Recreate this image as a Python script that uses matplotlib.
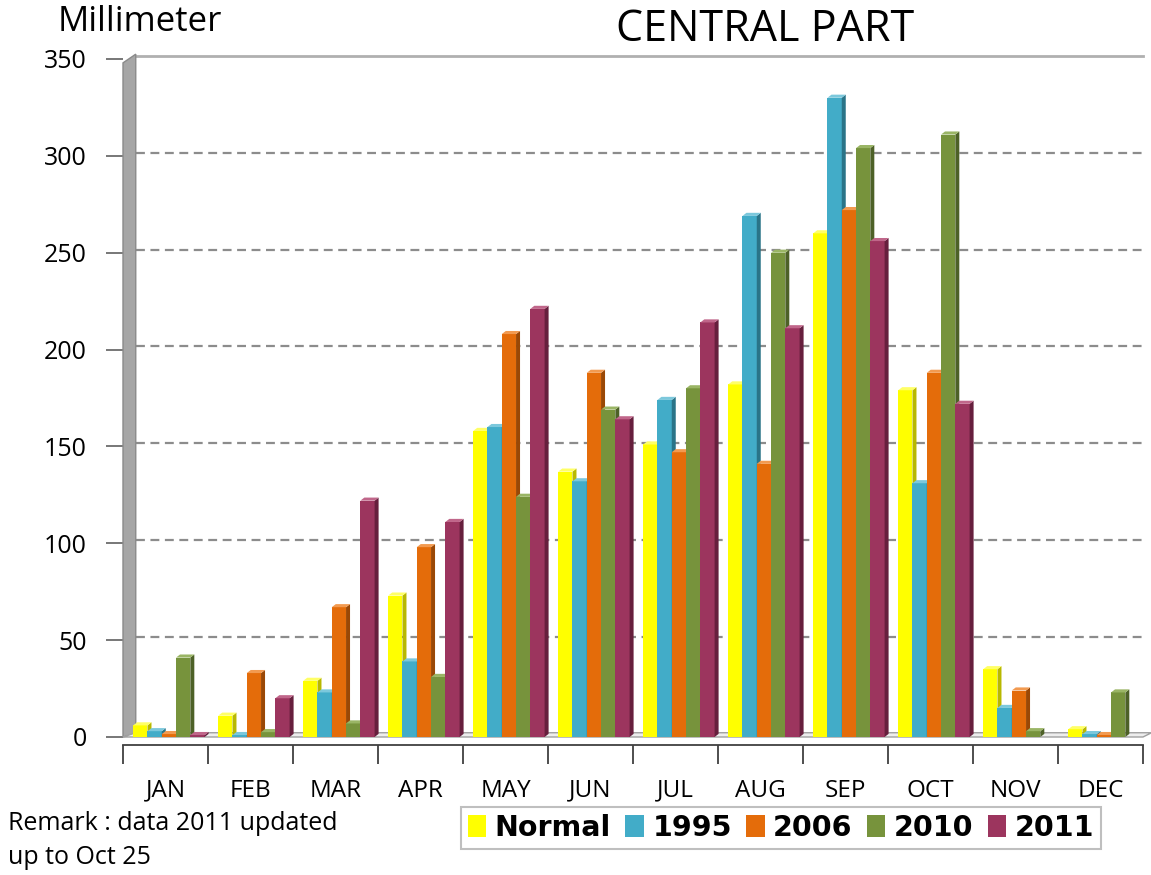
import numpy as np
from matplotlib import pyplot as plt
from matplotlib.patches import Polygon, Patch

months = ["JAN", "FEB", "MAR", "APR", "MAY", "JUN", "JUL", "AUG", "SEP", "OCT", "NOV", "DEC"]
series = ["Normal", "1995", "2006", "2010", "2011"]

normal = [6, 11, 29, 73, 158, 137, 151, 182, 260, 179, 35, 4]
y1995 = [3, 1, 23, 39, 160, 132, 174, 269, 330, 131, 15, 1.5]
y2006 = [1.5, 33, 67, 98, 208, 188, 147, 141, 272, 188, 24, 1]
y2010 = [41, 2.5, 7, 31, 124, 169, 180, 250, 304, 311, 3, 23]
y2011 = [1, 20, 122, 111, 221, 164, 214, 211, 256, 172, 0, 0]

colors = ["#FFFF00", "#42ACC8", "#E46C0A", "#77933C", "#9C355E"]
sides = ["#B8B800", "#2A7488", "#9A4806", "#4D6127", "#661F3D"]
tops = ["#FFFF66", "#7CC8DC", "#F29A50", "#9AB565", "#C0668A"]

fig = plt.figure(figsize=(11.51, 8.75), dpi=100)
ax = fig.add_axes([123 / 1151, (875 - 737) / 875, 1020 / 1151, 678 / 875])
ax.set_xlim(-0.5, 11.5)
ax.set_ylim(0, 348)

x = np.arange(len(months))
w = 0.168
dx = 0.047  # depth of the fake 3d
dy = 1.6

# grid lines
for g in [50, 100, 150, 200, 250, 300]:
    ax.plot([-0.35, 11.5], [g + dy, g + dy], color="#8C8C8C", lw=1.6,
            dashes=(4, 2.5), zorder=1, clip_on=False)
ax.plot([-0.35, 11.5], [351.5, 351.5], color="#B0B0B0", lw=2, zorder=1, clip_on=False)

# left wall
wall = Polygon([(-0.5, 0), (-0.5, 348), (-0.35, 352.5), (-0.35, dy)],
               closed=True, facecolor="#A6A6A6", edgecolor="#8A8A8A", lw=1,
               zorder=2, clip_on=False)
ax.add_patch(wall)
# floor
floor = Polygon([(-0.5, 0), (11.5, 0), (11.6, 2.2), (-0.35, 2.2)], closed=True,
                facecolor="#EDEDED", edgecolor="#A0A0A0", lw=1, zorder=2, clip_on=False)
ax.add_patch(floor)

data = [normal, y1995, y2006, y2010, y2011]
for i, vals in enumerate(data):
    pos = x + (i - 2) * w + 0.04
    ax.bar(pos, vals, width=w, color=colors[i], edgecolor="none", zorder=3 + i * 0.01)
    for p, h in zip(pos, vals):
        if h <= 0:
            continue
        x0 = p - w / 2
        x1 = p + w / 2
        side = Polygon([(x1, 0), (x1 + dx, dy), (x1 + dx, h + dy), (x1, h)],
                       closed=True, facecolor=sides[i], edgecolor="none", zorder=3 + i * 0.01)
        top = Polygon([(x0, h), (x0 + dx, h + dy), (x1 + dx, h + dy), (x1, h)],
                      closed=True, facecolor=tops[i], edgecolor="none", zorder=3 + i * 0.01)
        ax.add_patch(side)
        ax.add_patch(top)

# axes
for s in ["top", "right", "left"]:
    ax.spines[s].set_visible(False)
ax.spines["bottom"].set_position(("outward", 6))
ax.spines["bottom"].set_color("#404040")
ax.spines["bottom"].set_linewidth(1.3)

ax.set_yticks([0, 50, 100, 150, 200, 250, 300, 350])
ax.tick_params(axis="y", length=12, width=1.2, color="#606060", labelsize=18, pad=14)
ax.set_xticks(np.arange(-0.5, 12, 1))
ax.set_xticklabels([])
ax.set_xticks(x, minor=True)
ax.set_xticklabels(months, minor=True)
ax.tick_params(axis="x", which="major", length=14, width=1.3, color="#404040")
ax.tick_params(axis="x", which="minor", length=0, pad=24, labelsize=17.5)
for lab in ax.get_yticklabels() + ax.get_xticklabels(minor=True):
    lab.set_fontfamily("Open Sans")

fig.text(58 / 1151, 1 - 22 / 875, "Millimeter", fontsize=25, fontfamily="Open Sans",
         va="center", ha="left")
fig.text(765 / 1151, 1 - 30 / 875, "CENTRAL PART", fontsize=31, fontfamily="Open Sans",
         va="center", ha="center")
fig.text(8 / 1151, 1 - 823 / 875, "Remark : data 2011 updated", fontsize=18,
         fontfamily="Open Sans", va="center", ha="left")
fig.text(8 / 1151, 1 - 858 / 875, "up to Oct 25", fontsize=18,
         fontfamily="Open Sans", va="center", ha="left")

handles = [Patch(facecolor=c, edgecolor="none") for c in colors]
leg = fig.legend(handles, series, loc="center", bbox_to_anchor=(781 / 1151, 1 - 828 / 875),
                 ncol=5, frameon=True, fancybox=False, handlelength=0.65,
                 handleheight=0.85, handletextpad=0.3, columnspacing=0.5,
                 borderpad=0.25, prop={"family": "DejaVu Sans", "size": 20.5, "weight": "bold"})
leg.get_frame().set_edgecolor("#B0B0B0")
leg.get_frame().set_linewidth(1.5)

plt.savefig("out.png", dpi=100)
